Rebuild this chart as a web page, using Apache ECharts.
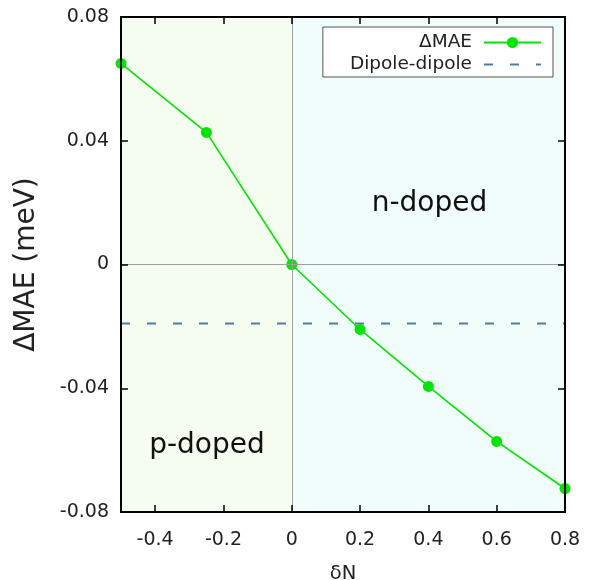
<!DOCTYPE html>
<html>
<head>
<meta charset="utf-8">
<script src="https://cdn.jsdelivr.net/npm/echarts@6/dist/echarts.min.js"></script>
<style>
html, body { margin: 0; padding: 0; background: #fff; }
#chart { width: 592px; height: 580px; }
</style>
</head>
<body>
<div id="chart"></div>
<script>
// values
var deltaN = [-0.5, -0.25, 0, 0.2, 0.4, 0.6, 0.8];
var deltaMAE = [0.065, 0.0427, 0, -0.021, -0.0394, -0.0572, -0.0724];
var dipoleX = [-0.5, 0.8];
var dipoleY = [-0.0191, -0.0191];
var yTicks = [-0.08, -0.04, 0, 0.04, 0.08];

var FONT = "DejaVu Sans, sans-serif";

function fmt(v, d) {
  if (Math.abs(v) < 1e-9) return "0";
  return String(+v.toFixed(d));
}

var frameLine = { onZero: false, lineStyle: { color: "#000", width: 2 } };
var frameTick = { inside: true, length: 7, lineStyle: { color: "#000", width: 1.5 } };

var myChart = echarts.init(document.getElementById("chart"));

var option = {
  animation: false,
  grid: { left: 121, right: 27, top: 17, bottom: 68, outerBoundsMode: "none", containLabel: false },
  legend: {
    data: ["ΔMAE", { name: "Dipole-dipole", itemStyle: { opacity: 0 } }],
    orient: "vertical",
    right: 39,
    top: 27,
    align: "right",
    itemWidth: 57,
    itemHeight: 14,
    itemGap: 3,
    padding: [6, 11, 3, 27],
    borderColor: "#555",
    borderWidth: 1,
    backgroundColor: "#fff",
    textStyle: { fontFamily: FONT, fontSize: 18.5, color: "#222", padding: [0, 7, 0, 0] }
  },
  xAxis: [
    {
      type: "value",
      min: -0.5,
      max: 0.8,
      splitNumber: 6,
      z: 10,
      name: "δN",
      nameLocation: "middle",
      nameGap: 52,
      nameTextStyle: { fontFamily: FONT, fontSize: 19.5, color: "#222" },
      axisLine: frameLine,
      axisTick: frameTick,
      splitLine: { show: false },
      axisLabel: {
        showMinLabel: false,
        margin: 19,
        fontFamily: FONT,
        fontSize: 19,
        color: "#222",
        formatter: function (v) { return fmt(v, 1); }
      }
    },
    {
      type: "value",
      position: "top",
      min: -0.5,
      max: 0.8,
      splitNumber: 6,
      z: 10,
      axisLine: frameLine,
      axisTick: frameTick,
      axisLabel: { show: false },
      splitLine: { show: false }
    }
  ],
  yAxis: [
    {
      type: "value",
      min: yTicks[0],
      max: yTicks[yTicks.length - 1],
      interval: 0.04,
      z: 10,
      name: "ΔMAE (meV)",
      nameLocation: "middle",
      nameGap: 80,
      nameTextStyle: { fontFamily: FONT, fontSize: 28, color: "#222" },
      axisLine: frameLine,
      axisTick: frameTick,
      splitLine: { show: false },
      axisLabel: {
        margin: 12,
        fontFamily: FONT,
        fontSize: 19,
        color: "#222",
        formatter: function (v) { return fmt(v, 2); }
      }
    },
    {
      type: "value",
      position: "right",
      min: yTicks[0],
      max: yTicks[yTicks.length - 1],
      interval: 0.04,
      z: 10,
      axisLine: frameLine,
      axisTick: frameTick,
      axisLabel: { show: false },
      splitLine: { show: false }
    }
  ],
  graphic: [
    {
      type: "text",
      z: 100,
      x: 429.5,
      y: 203.5,
      style: { text: "n-doped", fontFamily: FONT, fontSize: 28, fill: "#111", align: "center", verticalAlign: "middle" }
    },
    {
      type: "text",
      z: 100,
      x: 207,
      y: 445.5,
      style: { text: "p-doped", fontFamily: FONT, fontSize: 28, fill: "#111", align: "center", verticalAlign: "middle" }
    }
  ],
  series: [
    {
      name: "regions",
      type: "line",
      data: [],
      silent: true,
      z: 0,
      markArea: {
        silent: true,
        data: [
          [{ xAxis: -0.5, itemStyle: { color: "#f5fdf0" } }, { xAxis: 0 }],
          [{ xAxis: 0, itemStyle: { color: "#f1fdfa" } }, { xAxis: 0.8 }]
        ]
      },
      markLine: {
        silent: true,
        symbol: "none",
        label: { show: false },
        lineStyle: { color: "#a0a0a0", width: 1, type: "solid" },
        data: [{ xAxis: 0 }, { yAxis: 0 }]
      }
    },
    {
      name: "Dipole-dipole",
      type: "line",
      data: dipoleX.map(function (x, i) { return [x, dipoleY[i]]; }),
      symbol: "none",
      color: "#4f7f9c",
      lineStyle: { color: "#4f7f9c", width: 2, type: [9, 17] },
      z: 2
    },
    {
      name: "ΔMAE",
      type: "line",
      data: deltaN.map(function (x, i) { return [x, deltaMAE[i]]; }),
      symbol: "circle",
      symbolSize: 11,
      color: "#00e600",
      itemStyle: { color: "#00e600" },
      lineStyle: { color: "#00e600", width: 1.6 },
      z: 3
    }
  ]
};

myChart.setOption(option);
</script>
</body>
</html>
